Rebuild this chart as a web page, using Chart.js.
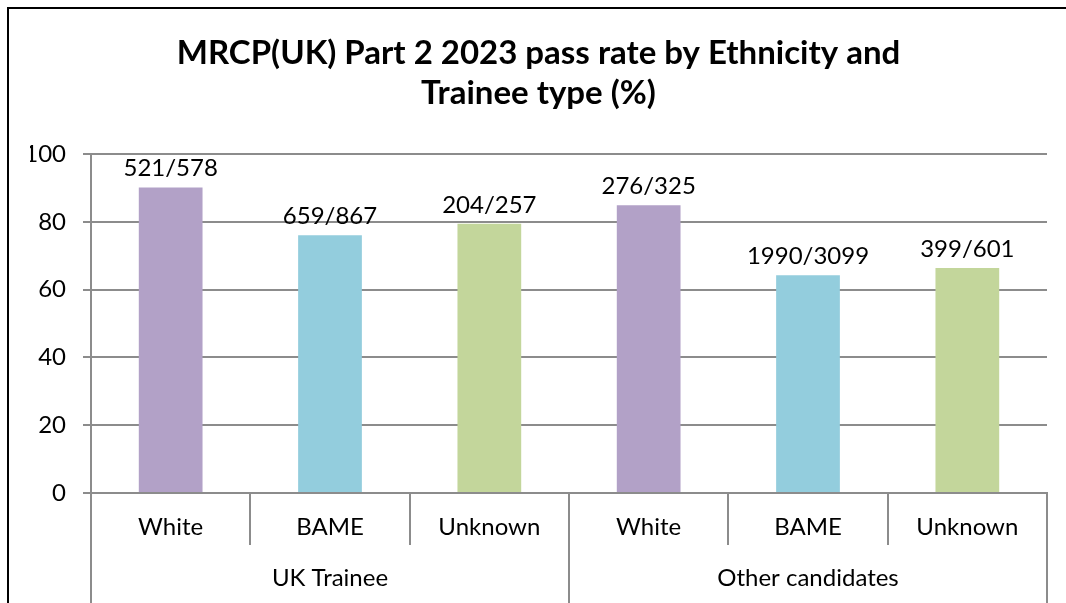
<!DOCTYPE html>
<html lang="en">
<head>
    <meta charset="UTF-8">
    <title>MRCP(UK) Part 2 2023 pass rate</title>
    <script src="https://cdn.jsdelivr.net/npm/chart.js"></script>
    <style>
        html, body { margin: 0; padding: 0; background: #fff; }
        #wrap { width: 1066px; height: 603px; }
    </style>
</head>
<body>
    <div id="wrap"><canvas id="passChart" width="1066" height="603"></canvas></div>

    <script>
        // data
        const ethnicities = ['White', 'BAME', 'Unknown', 'White', 'BAME', 'Unknown'];
        const traineeGroups = ['UK Trainee', 'Other candidates'];
        const passRates = [90.1, 76.0, 79.4, 84.9, 64.2, 66.4];
        const passCounts = ['521/578', '659/867', '204/257', '276/325', '1990/3099', '399/601'];
        const yTicks = [0, 20, 40, 60, 80, 100];

        const barColours = ['#b2a1c7', '#93cddd', '#c3d69b', '#b2a1c7', '#93cddd', '#c3d69b'];
        const gridGrey = '#8c8c8c';
        const fontName = 'Lato';

        // white background + the black frame (left and top edges)
        const frame = {
            id: 'frame',
            beforeDraw: function (chart) {
                const c = chart.ctx;
                c.save();
                c.fillStyle = '#fff';
                c.fillRect(0, 0, chart.width, chart.height);
                c.strokeStyle = '#000';
                c.lineWidth = 2;
                c.beginPath();
                c.moveTo(8, chart.height);
                c.lineTo(8, 8);
                c.lineTo(chart.width, 8);
                c.stroke();
                c.restore();
            }
        };

        // "passed/sat" text above each bar
        const countLabels = {
            id: 'countLabels',
            afterDatasetsDraw: function (chart) {
                const c = chart.ctx;
                const meta = chart.getDatasetMeta(0);
                c.save();
                c.font = '24px ' + fontName;
                c.fillStyle = '#000';
                c.textAlign = 'center';
                c.textBaseline = 'middle';
                meta.data.forEach(function (bar, i) {
                    c.fillText(passCounts[i], bar.x, bar.y - 19);
                });
                c.restore();
            }
        };

        const ctx = document.getElementById('passChart').getContext('2d');
        const passChart = new Chart(ctx, {
            type: 'bar',
            data: {
                labels: ethnicities,
                datasets: [{
                    data: passRates,
                    backgroundColor: barColours,
                    borderWidth: 0,
                    categoryPercentage: 1,
                    barPercentage: 0.4
                }]
            },
            options: {
                responsive: false,
                animation: false,
                layout: { padding: { left: 30, right: 19, top: 0, bottom: 0 } },
                plugins: {
                    legend: { display: false },
                    tooltip: { enabled: false },
                    title: {
                        display: true,
                        text: ['MRCP(UK) Part 2 2023 pass rate by Ethnicity and', 'Trainee type (%)'],
                        color: '#000',
                        font: { family: fontName, size: 33, weight: 'bold', lineHeight: 1.212 },
                        padding: { top: 33, bottom: 41 }
                    }
                },
                scales: {
                    y: {
                        min: 0,
                        max: 100,
                        afterFit: function (s) { s.width = 61; },
                        afterBuildTicks: function (s) {
                            s.ticks = yTicks.map(function (v) { return { value: v }; });
                        },
                        ticks: { color: '#000', padding: 17, font: { family: fontName, size: 24 } },
                        grid: { color: gridGrey, lineWidth: 2, tickLength: 8 },
                        border: { color: gridGrey, width: 2 }
                    },
                    x: {
                        position: 'bottom',
                        afterFit: function (s) { s.height = 52; },
                        ticks: { color: '#000', padding: -32, maxRotation: 0, font: { family: fontName, size: 24 } },
                        grid: { drawOnChartArea: false, offset: true, tickLength: 52, color: gridGrey, lineWidth: 2 },
                        border: { color: gridGrey, width: 2 }
                    },
                    groups: {
                        type: 'category',
                        position: 'bottom',
                        labels: traineeGroups,
                        offset: true,
                        afterFit: function (s) { s.height = 58; },
                        ticks: { color: '#000', padding: -39, maxRotation: 0, font: { family: fontName, size: 24 } },
                        grid: { drawOnChartArea: false, offset: true, tickLength: 58, color: gridGrey, lineWidth: 2 },
                        border: { display: false }
                    }
                }
            },
            plugins: [frame, countLabels]
        });
    </script>
</body>
</html>
